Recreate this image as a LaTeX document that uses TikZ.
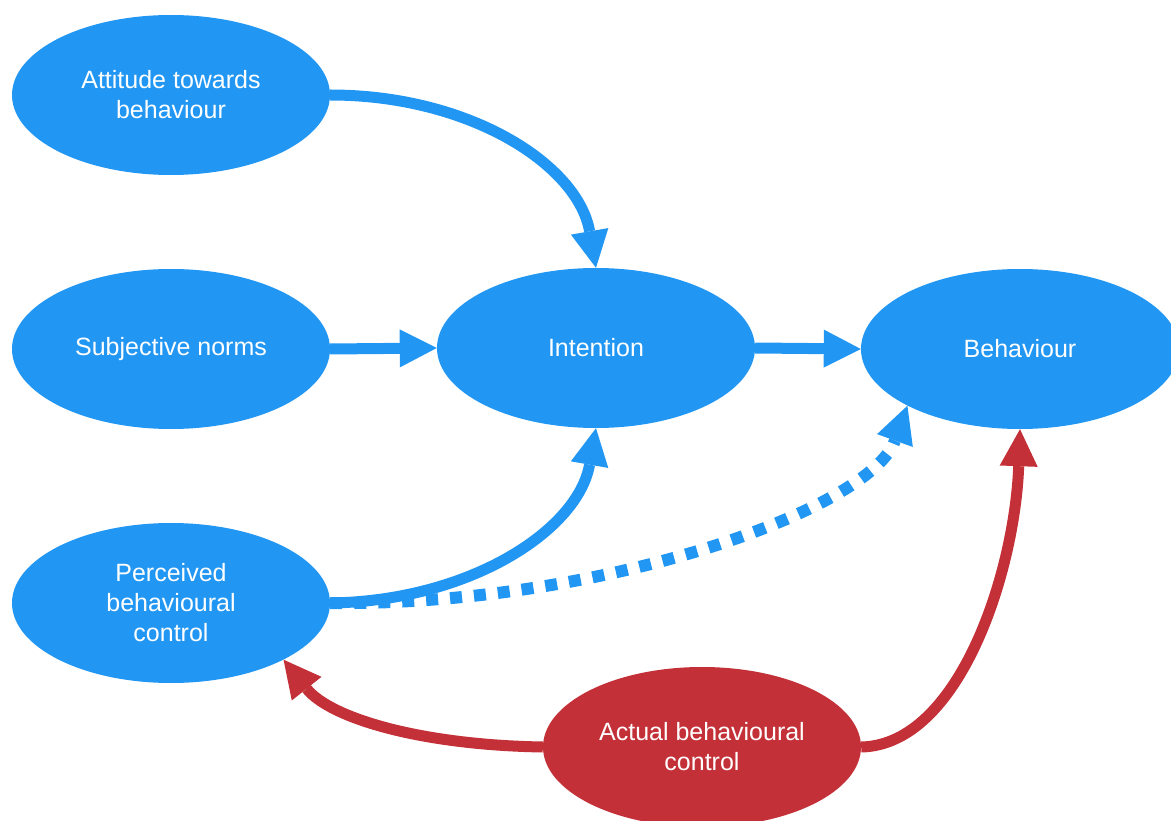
\documentclass[tikz,border=0pt]{standalone}
\usepackage{fontspec}
\setmainfont{Liberation Sans}
\usetikzlibrary{shapes.geometric,arrows.meta}
\definecolor{tpbblue}{HTML}{2196F3}
\definecolor{tpbred}{HTML}{C33037}
\begin{document}
\begin{tikzpicture}[x=1pt,y=-1pt,
  concept/.style={ellipse, fill=tpbblue, draw=none, inner sep=0pt,
    minimum width=318pt, minimum height=160pt, text=white, align=center,
    font=\fontsize{25}{30}\selectfont},
  actual/.style={concept, fill=tpbred},
  link/.style={line width=11pt, tpbblue,
    -{Triangle[length=37pt,width=38pt,line width=0pt]}},
  redlink/.style={link, tpbred},
  weaklink/.style={link, line width=12pt, dash pattern=on 12pt off 12pt}]
\useasboundingbox (0,0) rectangle (1171,821);

% constructs
\node[concept] (att) at (171,95)  {Attitude towards\\behaviour};
\node[concept] (sub) at (171,349) {Subjective norms};
\node[concept] (pbc) at (171,603) {Perceived\\behavioural\\control};
\node[concept] (int) at (596,348) {Intention};
\node[concept] (beh) at (1020,349) {Behaviour};
\node[actual]  (abc) at (702,747) {Actual behavioural\\control};

% predictors of intention
\draw[link] (att.east) .. controls (470,95) and (578,165) .. (int.north);
\draw[link] (sub.east) -- (int.west);
\draw[link] (pbc.east) .. controls (470,601) and (578,530) .. (int.south);

% intention to behaviour
\draw[link] (int.east) -- (beh.west);

% perceived control as a proxy for actual control
\draw[weaklink] (pbc.east) .. controls (600,606) and (870,510) .. (beh.south west);

% actual behavioural control
\draw[redlink] (abc.west) .. controls (420,745) and (330,718) .. (pbc.south east);
\draw[redlink] (abc.east) .. controls (960,745) and (1015,570) .. (beh.south);
\end{tikzpicture}
\end{document}
